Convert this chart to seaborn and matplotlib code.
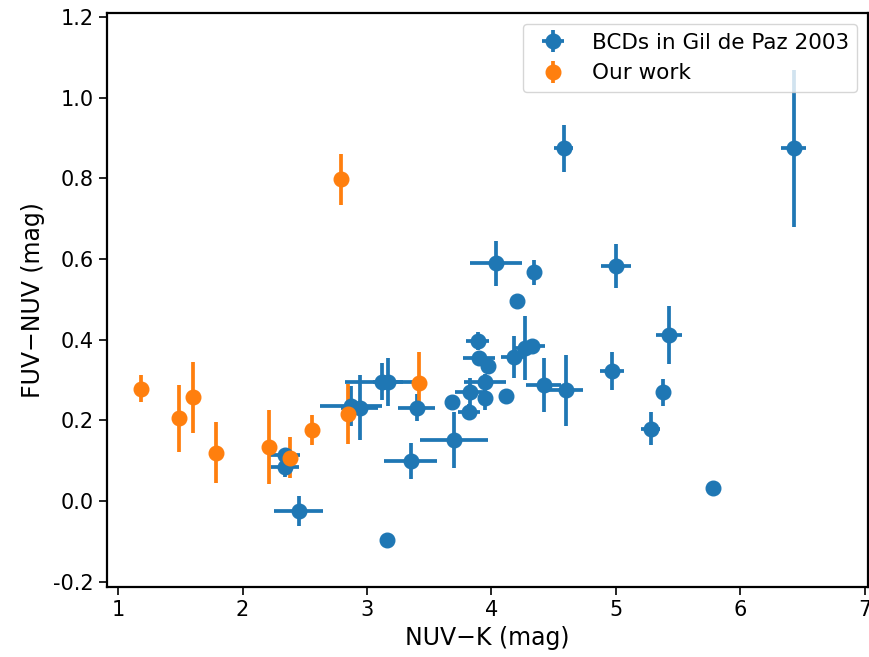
import matplotlib
matplotlib.use("Agg")
import matplotlib.pyplot as plt
import seaborn as sns
import numpy as np

# BCDs in Gil de Paz 2003
bcd_x = [4.58, 6.43, 4.04, 4.34, 5.00, 4.21, 5.43, 5.38, 4.97, 5.28, 5.78,
         4.27, 4.33, 4.18, 3.89, 3.90, 3.97, 3.95, 3.83, 3.95, 4.12, 3.82,
         3.68, 4.42, 4.60, 3.70, 3.35, 3.16, 3.40, 3.12, 3.17, 2.87, 2.94,
         2.45, 2.34, 2.34]
bcd_y = [0.875, 0.875, 0.590, 0.567, 0.583, 0.497, 0.412, 0.270, 0.323, 0.180, 0.033,
         0.380, 0.385, 0.358, 0.397, 0.356, 0.334, 0.296, 0.271, 0.256, 0.260, 0.221,
         0.245, 0.288, 0.275, 0.152, 0.100, -0.097, 0.232, 0.296, 0.296, 0.236, 0.232,
         -0.025, 0.114, 0.085]
bcd_xerr = [0.08, 0.10, 0.21, 0.0, 0.12, 0.0, 0.105, 0.0, 0.10, 0.078, 0.0,
            0.10, 0.10, 0.10, 0.09, 0.13, 0.05, 0.17, 0.12, 0.0, 0.056, 0.09,
            0.0, 0.14, 0.14, 0.27, 0.21, 0.0, 0.15, 0.30, 0.12, 0.25, 0.15,
            0.195, 0.12, 0.11]
bcd_yerr = [0.058, 0.195, 0.056, 0.03, 0.055, 0.0, 0.073, 0.033, 0.047, 0.042, 0.0,
            0.08, 0.01, 0.052, 0.023, 0.0, 0.02, 0.02, 0.035, 0.031, 0.019, 0.02,
            0.0, 0.068, 0.088, 0.069, 0.045, 0.0, 0.033, 0.046, 0.06, 0.05, 0.08,
            0.037, 0.01, 0.025]

# Our work
our_x = [1.18, 1.49, 1.60, 1.79, 2.21, 2.38, 2.56, 2.85, 3.42, 2.79]
our_y = [0.279, 0.205, 0.257, 0.120, 0.134, 0.108, 0.176, 0.216, 0.292, 0.798]
our_yerr = [0.034, 0.084, 0.087, 0.075, 0.092, 0.050, 0.037, 0.075, 0.078, 0.063]

labels = ["BCDs in Gil de Paz 2003", "Our work"]
x_ticks = [1, 2, 3, 4, 5, 6, 7]
y_ticks = [-0.2, 0.0, 0.2, 0.4, 0.6, 0.8, 1.0, 1.2]

sns.set_style("ticks")
plt.rcParams['font.family'] = ['DejaVu Sans']
plt.rcParams['axes.unicode_minus'] = False
for k in ['text.color', 'axes.labelcolor', 'xtick.color', 'ytick.color', 'axes.edgecolor']:
    plt.rcParams[k] = 'black'
pal = sns.color_palette("tab10")

fig = plt.figure(figsize=(8.7, 6.57), dpi=100)
ax = fig.add_axes([0.123, 0.1065, 0.875, 0.8735])

ax.errorbar(bcd_x, bcd_y, xerr=bcd_xerr, yerr=bcd_yerr, fmt='o', color=pal[0],
            markersize=10.5, elinewidth=2.7, capsize=0, label=labels[0])
ax.errorbar(our_x, our_y, yerr=our_yerr, fmt='o', color=pal[1],
            markersize=10.5, elinewidth=2.7, capsize=0, label=labels[1])

ax.set_xlim(0.91, 7.03)
ax.set_ylim(-0.213, 1.21)
ax.set_xticks(x_ticks)
ax.set_yticks(y_ticks)
ax.set_yticklabels([f"{v:.1f}" for v in y_ticks])
ax.tick_params(labelsize=15, length=6, width=1.2, direction='out', colors='black')
for s in ax.spines.values():
    s.set_linewidth(1.6)
    s.set_color('black')
ax.set_xlabel("NUV\u2212K (mag)", fontsize=17, labelpad=4)
ax.set_ylabel("FUV\u2212NUV (mag)", fontsize=17, labelpad=6)

ax.legend(loc='upper right', fontsize=15.5, frameon=True, framealpha=0.8,
          edgecolor='#cccccc', handletextpad=0.8, borderpad=0.4)

fig.savefig("out.png", dpi=100)
